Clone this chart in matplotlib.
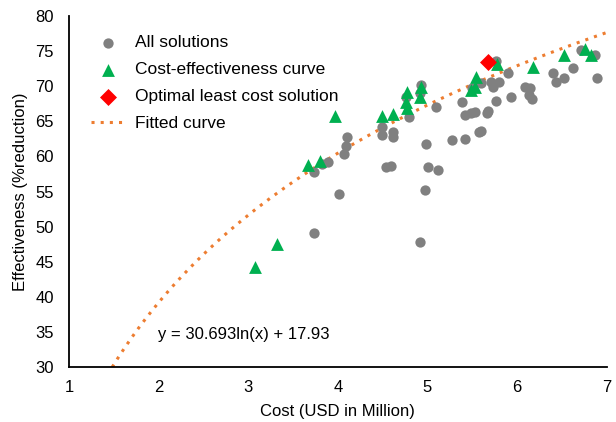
import numpy as np
import matplotlib
matplotlib.use("Agg")
import matplotlib.pyplot as plt

plt.rcParams['font.family'] = ['Liberation Sans', 'DejaVu Sans']

# All solutions (gray dots)
all_x = [3.73, 3.73, 3.82, 3.89, 4.01, 4.07, 4.09, 4.10, 4.49, 4.49, 4.62, 4.62,
         4.54, 4.59, 4.79, 4.93, 4.98, 5.00, 5.12, 4.97, 4.92, 5.10, 5.27, 5.42,
         5.39, 5.42, 5.49, 5.53, 5.66, 5.68, 5.60, 5.60, 5.71, 5.73, 5.80, 5.76,
         5.76, 5.90, 5.93, 6.09, 6.14, 6.13, 6.17, 6.40, 6.43, 6.52, 6.62, 6.89,
         6.71, 6.87, 5.57, 5.50, 4.76, 4.92]
all_y = [49.1, 57.8, 58.9, 59.2, 54.6, 60.3, 61.5, 62.8, 64.2, 63.0, 63.5, 62.8,
         58.5, 58.6, 65.6, 70.2, 61.8, 58.5, 58.1, 55.2, 47.8, 67.0, 62.3, 62.5,
         67.7, 65.9, 66.2, 66.3, 66.2, 66.5, 63.6, 70.5, 70.6, 69.9, 70.6, 67.9,
         73.6, 71.9, 68.5, 69.9, 69.7, 68.7, 68.2, 71.9, 70.6, 71.2, 72.6, 71.2,
         75.2, 74.4, 63.5, 69.7, 68.5, 69.0]

# Cost-effectiveness curve (green triangles)
ce_x = [3.08, 3.32, 3.67, 3.80, 3.97, 4.49, 4.61, 4.77, 4.76, 4.77, 4.93, 4.92,
        5.49, 5.53, 5.54, 5.77, 6.18, 6.52, 6.76, 6.82]
ce_y = [44.2, 47.5, 58.8, 59.3, 65.8, 65.8, 66.0, 69.2, 67.7, 66.9, 69.9, 68.5,
        69.5, 69.9, 71.3, 73.2, 72.7, 74.4, 75.3, 74.4]

# Optimal least cost solution (red diamond)
opt_x = [5.67]
opt_y = [73.4]

# Fitted curve y = a ln(x) + b
fit_a = 30.693
fit_b = 17.93

fig = plt.figure(figsize=(6.16, 4.22), dpi=100)
ax = fig.add_axes([0.112, 0.130, 0.873, 0.832])

ax.scatter(all_x, all_y, s=55, color='#808080', marker='o', linewidths=0,
           label='All solutions', zorder=2)
ax.scatter(ce_x, ce_y, s=85, color='#00b050', marker='^', linewidths=0,
           label='Cost-effectiveness curve', zorder=3)
ax.scatter(opt_x, opt_y, s=75, color='#ff0000', marker='D', linewidths=0,
           label='Optimal least cost solution', zorder=4)

x0 = np.exp((30 - fit_b) / fit_a)
xs = np.linspace(x0, 7, 300)
ax.plot(xs, fit_a * np.log(xs) + fit_b, linestyle=(0, (1, 2.0)), color='#ed7d31',
        linewidth=2.2, label='Fitted curve', zorder=1)

ax.set_xlim(1, 7)
ax.set_ylim(30, 80)
ax.set_xticks([1, 2, 3, 4, 5, 6, 7])
ax.set_yticks([30, 35, 40, 45, 50, 55, 60, 65, 70, 75, 80])
ax.spines['top'].set_visible(False)
ax.spines['right'].set_visible(False)
ax.spines['left'].set_linewidth(1.3)
ax.spines['bottom'].set_linewidth(1.3)
ax.tick_params(axis='y', length=0, labelsize=12, pad=11)
ax.tick_params(axis='x', length=0, labelsize=12, pad=9)
ax.set_xlabel('Cost (USD in Million)', fontsize=12, labelpad=7)
ax.set_ylabel('Effectiveness (%reduction)', fontsize=12, labelpad=5)

ax.text(1.99, 34.0, 'y = 30.693ln(x) + 17.93', fontsize=12)

ax.legend(loc='upper left', bbox_to_anchor=(0.012, 0.99), frameon=False, fontsize=12.5,
          handletextpad=0.55, labelspacing=0.68, handlelength=2.0)

fig.savefig('out.png', dpi=100)
